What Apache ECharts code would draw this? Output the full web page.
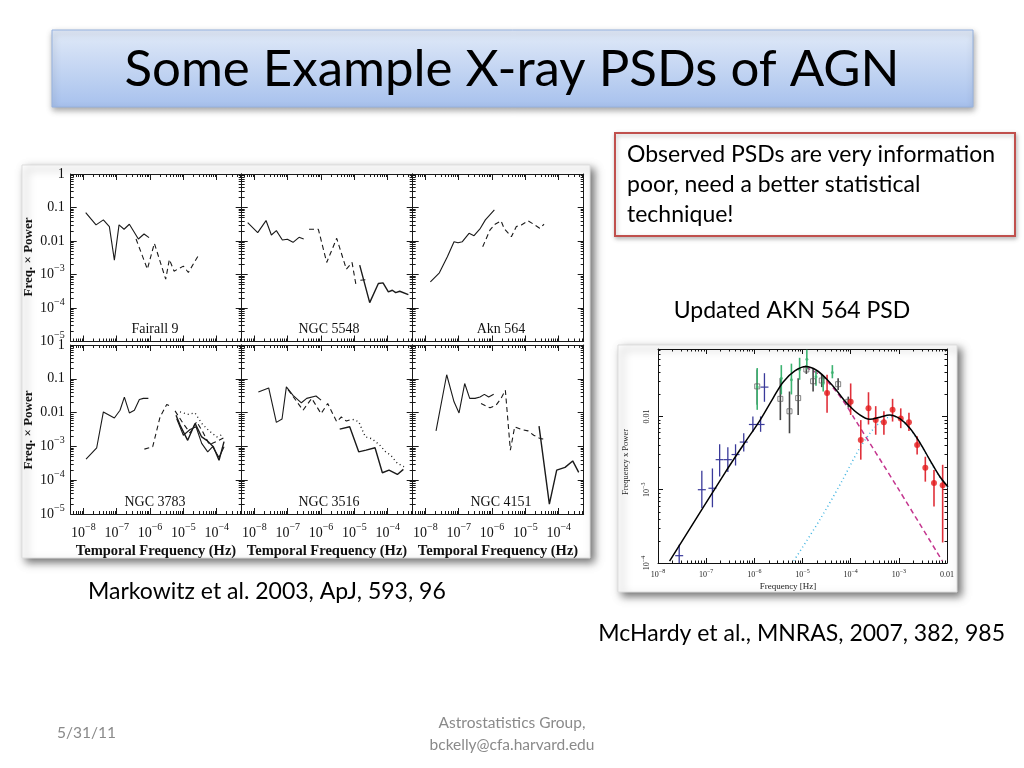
<!DOCTYPE html>
<html><head><meta charset="utf-8">
<script src="https://cdn.jsdelivr.net/npm/echarts@6/dist/echarts.min.js"></script>
<style>html,body{margin:0;padding:0;background:#fff}#c{width:1024px;height:768px}</style>
</head><body><div id="c"></div><script>
// ---- DATA (log10 frequency [Hz], log10 freq x power) ----
const f9_solid = [[-7.93,-1.15],[-7.62,-1.52],[-7.40,-1.37],[-7.22,-1.57],[-7.07,-2.57],[-6.93,-1.52],[-6.78,-1.65],[-6.62,-1.50],[-6.35,-1.94],[-6.18,-1.79],[-6.03,-1.90]];
const f9_dash = [[-6.42,-1.94],[-6.08,-2.84],[-5.87,-2.07],[-5.53,-3.14],[-5.42,-2.55],[-5.28,-2.90],[-5.00,-2.75],[-4.85,-2.94],[-4.53,-2.40]];

const n5548_solid1 = [[-8.20,-1.45],[-7.90,-1.75],[-7.65,-1.39],[-7.49,-1.82],[-7.34,-1.69],[-7.16,-1.97],[-7.01,-1.95],[-6.84,-2.04],[-6.66,-1.89],[-6.52,-1.94]];
const n5548_dash = [[-6.36,-1.65],[-6.08,-1.65],[-5.83,-2.64],[-5.53,-1.92],[-5.24,-2.84],[-5.07,-2.64],[-4.95,-3.32]];
const n5548_dash2 = [[-4.82,-3.17],[-4.58,-3.15]];
const n5548_solid2 = [[-4.84,-2.72],[-4.54,-3.84],[-4.28,-3.27],[-4.14,-3.25],[-3.98,-3.52],[-3.86,-3.47],[-3.76,-3.54],[-3.64,-3.50],[-3.38,-3.60]];

const a564_solid = [[-7.85,-3.22],[-7.58,-2.95],[-7.34,-2.47],[-7.14,-2.02],[-7.02,-2.05],[-6.89,-2.02],[-6.69,-1.77],[-6.54,-1.84],[-6.35,-1.62],[-6.20,-1.37],[-5.93,-1.07]];
const a564_dash = [[-6.28,-2.17],[-6.06,-1.67],[-5.91,-1.50],[-5.73,-1.40],[-5.63,-1.64],[-5.42,-1.87],[-5.27,-1.57],[-5.12,-1.52],[-4.92,-1.40],[-4.75,-1.50],[-4.57,-1.62],[-4.44,-1.50]];

const n3783_solid1 = [[-7.92,-3.38],[-7.60,-3.04],[-7.40,-1.98],[-7.07,-2.16],[-6.90,-1.93],[-6.77,-1.54],[-6.62,-2.01],[-6.47,-1.93],[-6.32,-1.61],[-6.20,-1.58],[-6.05,-1.58]];
const n3783_dash1 = [[-6.17,-3.08],[-5.92,-3.01],[-5.70,-2.13],[-5.50,-1.76],[-5.35,-1.83]];
const n3783_solid2 = [[-5.22,-2.08],[-5.10,-2.37],[-4.87,-2.82],[-4.65,-2.32],[-4.45,-2.72],[-4.30,-2.82],[-4.10,-3.01],[-3.93,-3.41],[-3.78,-2.86]];
const n3783_solid3 = [[-5.20,-2.18],[-5.00,-2.67],[-4.80,-2.50],[-4.62,-2.42],[-4.45,-2.91],[-4.27,-3.16],[-4.12,-3.01],[-3.93,-3.33],[-3.78,-3.01]];
const n3783_dot = [[-5.10,-1.98],[-4.85,-2.05],[-4.65,-2.01],[-4.45,-2.32],[-4.25,-2.52],[-4.00,-2.72],[-3.80,-2.64]];
const n3783_dash2 = [[-5.25,-1.95],[-5.00,-2.33],[-4.80,-2.60],[-4.60,-2.27],[-4.40,-2.60],[-4.22,-2.95],[-4.00,-2.85],[-3.80,-2.75]];

const n3516_solid1 = [[-7.88,-1.39],[-7.57,-1.27],[-7.34,-2.29],[-7.17,-2.19],[-7.04,-1.24],[-6.84,-1.49],[-6.59,-1.71],[-6.43,-1.58],[-6.15,-1.51],[-6.00,-1.63]];
const n3516_dash = [[-6.99,-1.32],[-6.54,-1.93],[-6.28,-1.58],[-6.00,-2.03],[-5.80,-1.73],[-5.53,-2.27],[-5.39,-2.13],[-5.24,-2.25],[-5.09,-2.20]];
const n3516_solid2 = [[-5.44,-2.49],[-5.14,-2.42],[-4.87,-3.16],[-4.65,-3.11],[-4.38,-3.04],[-4.16,-3.78],[-3.96,-3.70],[-3.71,-3.83],[-3.53,-3.68]];
const n3516_dot = [[-5.05,-2.20],[-4.87,-2.27],[-4.67,-2.72],[-4.48,-2.77],[-4.25,-2.95],[-4.06,-3.16],[-3.91,-3.26],[-3.71,-3.50],[-3.51,-3.60]];

const n4151_solid1 = [[-7.68,-2.54],[-7.36,-0.88],[-7.14,-1.68],[-6.99,-2.01],[-6.82,-1.14],[-6.67,-1.58],[-6.51,-1.58],[-6.36,-1.54],[-6.23,-1.46],[-6.10,-1.54],[-5.95,-1.46]];
const n4151_dash = [[-6.33,-1.73],[-6.06,-1.86],[-5.88,-1.78],[-5.73,-1.58],[-5.60,-1.34],[-5.45,-3.11],[-5.32,-2.42],[-5.12,-2.50],[-4.92,-2.54],[-4.75,-2.67],[-4.55,-2.77],[-4.41,-2.79]];
const n4151_solid2 = [[-4.59,-2.40],[-4.28,-4.71],[-4.06,-3.70],[-3.81,-3.62],[-3.58,-3.43],[-3.40,-3.77]];

// Akn 564 updated PSD (McHardy et al.)
const akn_model = [[-7.76,-3.975],[-6.61,-2.77],[-6.23,-2.39],[-5.88,-2.05],[-5.61,-1.75],[-5.40,-1.53],[-5.16,-1.38],[-4.93,-1.32],[-4.71,-1.37],[-4.50,-1.49],[-4.30,-1.64],[-4.08,-1.82],[-3.81,-1.98],[-3.60,-2.04],[-3.39,-2.01],[-3.19,-1.98],[-2.98,-2.03],[-2.77,-2.16],[-2.56,-2.36],[-2.36,-2.59],[-2.15,-2.82],[-1.98,-2.96]];
const akn_lowcomp = [[-4.93,-1.33],[-4.60,-1.45],[-4.30,-1.66],[-4.08,-1.86],[-3.95,-2.00],[-3.00,-3.00],[-2.10,-3.97]];
const akn_highcomp = [[-5.18,-3.97],[-4.64,-3.41],[-4.22,-2.93],[-3.81,-2.43],[-3.50,-2.15],[-3.25,-2.02],[-3.10,-2.00],[-2.98,-2.03],[-2.77,-2.17],[-2.56,-2.37],[-2.36,-2.60],[-2.15,-2.83],[-1.98,-2.97]];
// [x, y, low, high]
const akn_blue = [[-7.56,-3.90,-4.00,-3.75],[-7.09,-3.00,-3.25,-2.74],[-6.87,-2.98,-3.24,-2.71],[-6.72,-2.59,-2.82,-2.38],[-6.55,-2.59,-2.76,-2.42],[-6.39,-2.52,-2.67,-2.38],[-6.22,-2.35,-2.48,-2.23],[-6.03,-2.11,-2.21,-2.00],[-5.87,-2.11,-2.21,-2.00],[-5.79,-1.60,-1.80,-1.41]];
const akn_green = [[-5.94,-1.60,-1.91,-1.34],[-5.44,-1.48,-1.70,-1.30],[-5.23,-1.50,-1.70,-1.28],[-5.06,-1.36,-1.50,-1.20],[-4.91,-1.22,-1.36,-1.09],[-4.72,-1.46,-1.58,-1.38],[-4.57,-1.55,-1.66,-1.45],[-4.38,-1.40,-1.48,-1.30]];
const akn_black = [[-5.94,-1.59,-1.84,-1.36],[-5.46,-1.76,-2.05,-1.48],[-5.27,-1.93,-2.23,-1.66],[-5.09,-1.75,-1.98,-1.48],[-4.92,-1.36,-1.42,-1.30],[-4.78,-1.52,-1.66,-1.34],[-4.60,-1.51,-1.60,-1.42],[-4.26,-1.56,-1.64,-1.48],[-4.05,-1.80,-1.88,-1.73]];
const akn_red = [[-4.49,-1.68,-1.95,-1.43],[-4.00,-1.80,-1.98,-1.55],[-3.79,-2.32,-2.59,-2.05],[-3.63,-1.89,-2.11,-1.67],[-3.48,-2.05,-2.25,-1.86],[-3.31,-2.08,-2.25,-1.93],[-3.13,-1.91,-2.07,-1.76],[-2.96,-2.03,-2.16,-1.89],[-2.79,-2.08,-2.20,-1.95],[-2.62,-2.39,-2.52,-2.27],[-2.45,-2.70,-2.89,-2.55],[-2.27,-2.91,-3.23,-2.73],[-2.09,-2.94,-3.72,-2.66]];

// ---- tick labels ----
const leftXDecades = [-8,-7,-6,-5,-4];
const leftYDecades = [-5,-4,-3,-2,-1,0];
const rightXDecades = [-8,-7,-6,-5,-4,-3,-2];
const rightYDecades = [-4,-3,-2];
const panelNames = ['Fairall 9','NGC 5548','Akn 564','NGC 3783','NGC 3516','NGC 4151'];

// ---- helpers ----
const SERIF = 'Liberation Serif';
const SANS = 'Lato';
function minors(from, to, lo, hi){
  const out=[];
  for(let n=from;n<=to;n++){ for(let k=2;k<=9;k++){ const v=n+Math.log10(k); if(v>lo && v<hi) out.push(v);} }
  return out;
}
function powLabel(v){
  const n=Math.round(v);
  if(n===0) return '{b|1}';
  if(n===-1) return '{b|0.1}';
  if(n===-2) return '{b|0.01}';
  return '{b|10}{s|\u2212'+(-n)+'}';
}
const grids=[], xAxes=[], yAxes=[], series=[];
function mkAxis(pos, gi, range, major, minor, isMinor, tl, color, label){
  return {
    type:'value', gridIndex:gi, position:pos, min:range[0], max:range[1],
    axisLine:{show:!isMinor, onZero:false, lineStyle:{color:color, width:1}},
    axisTick:{show:true, inside:true, length:isMinor?tl[1]:tl[0], customValues:isMinor?minor:major, lineStyle:{color:color,width:1}},
    axisLabel: (label && !isMinor) ? Object.assign({customValues:major}, label) : {show:false},
    splitLine:{show:false}, minorTick:{show:false}, axisPointer:{show:false}
  };
}
function addPanel(box, xr, yr, xMaj, yMaj, xMin, yMin, tl, color, xLabel, yLabel){
  const gi=grids.length;
  grids.push({left:box[0], top:box[1], width:box[2], height:box[3], show:false});
  const xi=xAxes.length, yi=yAxes.length;
  xAxes.push(mkAxis('bottom',gi,xr,xMaj,xMin,false,tl,color,xLabel));
  xAxes.push(mkAxis('bottom',gi,xr,xMaj,xMin,true,tl,color,null));
  xAxes.push(mkAxis('top',gi,xr,xMaj,xMin,false,tl,color,null));
  xAxes.push(mkAxis('top',gi,xr,xMaj,xMin,true,tl,color,null));
  yAxes.push(mkAxis('left',gi,yr,yMaj,yMin,false,tl,color,yLabel));
  yAxes.push(mkAxis('left',gi,yr,yMaj,yMin,true,tl,color,null));
  yAxes.push(mkAxis('right',gi,yr,yMaj,yMin,false,tl,color,null));
  yAxes.push(mkAxis('right',gi,yr,yMaj,yMin,true,tl,color,null));
  return {xi, yi};
}
function line(ax, data, type, color, width, smooth, z){
  let lt='solid';
  if(type==='dash') lt=[5,3.5];
  if(type==='dot') lt=[1,3];
  series.push({type:'line', xAxisIndex:ax.xi, yAxisIndex:ax.yi, data:data, showSymbol:false, symbol:'none', smooth:smooth||false,
    lineStyle:{color:color, width:width, type:lt}, z:z||2, silent:true, animation:false, clip:true});
}

// ---- left 6-panel figure ----
const LX=[-8.38,-3.25], LY=[-5,0];
const lxMin=minors(-9,-4,LX[0],LX[1]), lyMin=minors(-5,-1,LY[0],LY[1]);
const LC='#1a1a1a';
const lRich={b:{fontFamily:SERIF,fontSize:14,color:'#111',lineHeight:22},s:{fontFamily:SERIF,fontSize:10,color:'#111',verticalAlign:'top',lineHeight:10}};
const colLeft=[70.7,241.7,412.7], rowTop=[174,345], rowH=[167.5,169];
const axes=[];
for(let r=0;r<2;r++) for(let c=0;c<3;c++){
  const xl = r===1 ? {show:true, formatter:powLabel, rich:lRich, margin:8} : null;
  const yl = c===0 ? {show:true, formatter:powLabel, rich:lRich, margin:6, showMinLabel:true, showMaxLabel:true} : null;
  axes.push(addPanel([colLeft[c],rowTop[r],171,rowH[r]], LX, LY, leftXDecades, leftYDecades, lxMin, lyMin, [6,3], LC, xl, yl));
}
const W=1.1;
line(axes[0],f9_solid,'solid',LC,W); line(axes[0],f9_dash,'dash',LC,W);
line(axes[1],n5548_solid1,'solid',LC,W); line(axes[1],n5548_dash,'dash',LC,W); line(axes[1],n5548_dash2,'dash',LC,W); line(axes[1],n5548_solid2,'solid',LC,1.4);
line(axes[2],a564_solid,'solid',LC,W); line(axes[2],a564_dash,'dash',LC,W);
line(axes[3],n3783_solid1,'solid',LC,W); line(axes[3],n3783_dash1,'dash',LC,W); line(axes[3],n3783_solid2,'solid',LC,1.4); line(axes[3],n3783_solid3,'solid',LC,W); line(axes[3],n3783_dot,'dot',LC,1.3); line(axes[3],n3783_dash2,'dash',LC,W);
line(axes[4],n3516_solid1,'solid',LC,W); line(axes[4],n3516_dash,'dash',LC,W); line(axes[4],n3516_solid2,'solid',LC,1.4); line(axes[4],n3516_dot,'dot',LC,1.4);
line(axes[5],n4151_solid1,'solid',LC,W); line(axes[5],n4151_dash,'dash',LC,W); line(axes[5],n4151_solid2,'solid',LC,1.4);

// ---- right figure ----
const RX=[-8,-2], RY=[-4,-1.08];
const rRich={b:{fontFamily:SERIF,fontSize:8,color:'#222',lineHeight:14},s:{fontFamily:SERIF,fontSize:6,color:'#222',verticalAlign:'top',lineHeight:6}};
const rAx = addPanel([658,349,289,214], RX, RY, rightXDecades, rightYDecades, minors(-9,-3,RX[0],RX[1]), minors(-5,-2,RY[0],RY[1]), [5,2.5], '#111',
  {show:true, formatter:powLabel, rich:rRich, margin:5},
  {show:true, formatter:powLabel, rich:rRich, margin:4, rotate:90});
line(rAx, akn_lowcomp, 'dash', '#c4368f', 1.5, 0.3, 3);
line(rAx, akn_highcomp, 'dot', '#3fb3e0', 1.5, 0.3, 3);
function errSeries(data, color, width, z, cross){
  series.push({type:'custom', xAxisIndex:rAx.xi, yAxisIndex:rAx.yi, data:data, z:z, silent:true, animation:false, clip:true,
    renderItem:function(p, api){
      const x=api.value(0), y=api.value(1), lo=api.value(2), hi=api.value(3);
      const a=api.coord([x,lo]), b=api.coord([x,hi]), c=api.coord([x,y]);
      const ch=[{type:'line', shape:{x1:a[0],y1:a[1],x2:b[0],y2:b[1]}, style:{stroke:color, lineWidth:width}}];
      if(cross) ch.push({type:'line', shape:{x1:c[0]-cross,y1:c[1],x2:c[0]+cross,y2:c[1]}, style:{stroke:color, lineWidth:1.2}});
      return {type:'group', children:ch};
    }});
}
errSeries(akn_black, '#444', 1.6, 4, 0);
errSeries(akn_green, '#3cb371', 1.6, 5, 0);
errSeries(akn_blue, '#3a3a9a', 1.3, 5, 4);
errSeries(akn_red, '#e0303a', 1.6, 6, 0);
series.push({type:'scatter', xAxisIndex:rAx.xi, yAxisIndex:rAx.yi, data:akn_black.map(d=>[d[0],d[1]]), symbol:'rect', symbolSize:5,
  itemStyle:{color:'rgba(255,255,255,0)', borderColor:'#555', borderWidth:0.9}, z:7, silent:true, animation:false});
series.push({type:'scatter', xAxisIndex:rAx.xi, yAxisIndex:rAx.yi, data:akn_green.map(d=>[d[0],d[1]]), symbol:'circle', symbolSize:3,
  itemStyle:{color:'#3cb371'}, z:7, silent:true, animation:false});
series.push({type:'scatter', xAxisIndex:rAx.xi, yAxisIndex:rAx.yi, data:akn_red.map(d=>[d[0],d[1]]), symbol:'circle', symbolSize:6,
  itemStyle:{color:'#e31a1c'}, z:8, silent:true, animation:false});
line(rAx, akn_model, 'solid', '#000', 1.5, 0.35, 9);

// ---- graphics ----
function txt(t, x, y, size, fam, color, align, extra){
  return Object.assign({type:'text', x:x, y:y, z:100, silent:true, style:{text:t, fontSize:size, fontFamily:fam, fill:color,
    textAlign:align||'left', align:align||'left', textVerticalAlign:'middle', verticalAlign:'middle'}}, extra||{});
}
function rot(t, x, y, size, bold, color){
  return {type:'text', x:x, y:y, z:100, silent:true, rotation:Math.PI/2,
    style:{text:t, fontSize:size, fontFamily:SERIF, fontWeight:bold?'bold':'normal', fill:color, textAlign:'center', align:'center', textVerticalAlign:'middle', verticalAlign:'middle'}};
}
const gfx=[
  {type:'rect', shape:{x:52,y:30,width:921,height:77}, z:-5, silent:true,
   style:{fill:{type:'linear',x:0,y:0,x2:0,y2:1,colorStops:[{offset:0,color:'#e1eaf8'},{offset:1,color:'#a7c1ed'}]},
     stroke:'#96b2df', lineWidth:1, shadowBlur:6, shadowOffsetX:1, shadowOffsetY:3, shadowColor:'rgba(0,0,0,0.35)'}},
  txt('Some Example X-ray PSDs of AGN', 512, 70, 51, SANS, '#000', 'center'),
  {type:'rect', shape:{x:615,y:133,width:400,height:103}, z:-5, silent:true,
   style:{fill:'#fff', stroke:'#c0504d', lineWidth:2, shadowBlur:4, shadowOffsetX:1, shadowOffsetY:2, shadowColor:'rgba(0,0,0,0.25)'}},
  txt('Observed PSDs are very information', 627, 155, 23, SANS, '#000'),
  txt('poor, need a better statistical', 627, 185, 23, SANS, '#000'),
  txt('technique!', 627, 215, 23, SANS, '#000'),
  {type:'rect', shape:{x:22,y:165,width:568,height:393}, z:-5, silent:true,
   style:{fill:'#fff', stroke:'#ddd', lineWidth:1, shadowBlur:8, shadowOffsetX:4, shadowOffsetY:4, shadowColor:'rgba(0,0,0,0.55)'}},
  {type:'rect', shape:{x:618,y:345,width:339,height:247}, z:-5, silent:true,
   style:{fill:'#fff', stroke:'#ddd', lineWidth:1, shadowBlur:8, shadowOffsetX:4, shadowOffsetY:4, shadowColor:'rgba(0,0,0,0.55)'}},
  txt('Updated AKN 564 PSD', 792, 311, 23, SANS, '#000', 'center'),
  txt('Markowitz et al. 2003, ApJ, 593, 96', 88, 592, 23, SANS, '#000'),
  txt('McHardy et al., MNRAS, 2007, 382, 985', 1005, 634, 23, SANS, '#000', 'right'),
  txt('5/31/11', 57, 733, 15.5, SANS, '#8a8a8a'),
  txt('Astrostatistics Group,', 512, 723, 15.5, SANS, '#8a8a8a', 'center'),
  txt('bckelly@cfa.harvard.edu', 512, 745, 15.5, SANS, '#8a8a8a', 'center'),
  rot('Freq. \u00d7 Power', 29, 257, 13, true, '#111'),
  rot('Freq. \u00d7 Power', 29, 430, 13, true, '#111'),
  rot('Frequency x Power', 626, 462, 8.5, false, '#222'),
  txt('Frequency [Hz]', 788, 587, 9, SERIF, '#222', 'center')
];
const xTitleX=[156,327,498];
xTitleX.forEach(function(x){
  gfx.push({type:'text', x:x, y:551, z:100, silent:true, style:{text:'Temporal Frequency (Hz)', fontSize:14.5, fontWeight:'bold', fontFamily:SERIF, fill:'#111', textAlign:'center', align:'center', textVerticalAlign:'middle', verticalAlign:'middle'}});
});
const nameX=[155,329,501], nameY=[329,502];
panelNames.forEach(function(n,i){
  gfx.push(txt(n, nameX[i%3], nameY[Math.floor(i/3)], 14, SERIF, '#111', 'center'));
});

const chart=echarts.init(document.getElementById('c'),null,{renderer:'canvas'});
chart.setOption({animation:false, backgroundColor:'#fff', grid:grids, xAxis:xAxes, yAxis:yAxes, series:series, graphic:{elements:gfx}});
</script></body></html>
